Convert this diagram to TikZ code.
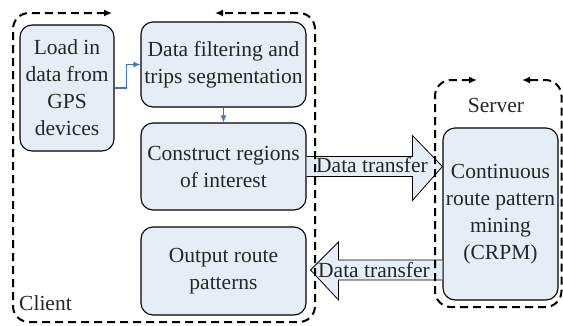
\documentclass[tikz,border=0pt]{standalone}
\usepackage{fontspec}
\setmainfont{Liberation Serif}
\usetikzlibrary{arrows.meta,calc}
\definecolor{boxfill}{HTML}{E7EDF7}
\definecolor{flowblue}{HTML}{4472C4}
\definecolor{txt}{HTML}{262626}
\begin{document}
\begin{tikzpicture}[x=1pt,y=-1pt,
  box/.style={draw=black,line width=1.1pt,fill=boxfill,rounded corners=12pt,
    align=center,text=txt,inner sep=1pt,
    font=\fontsize{21.5}{27}\selectfont},
  region/.style={draw=black,line width=2pt,dash pattern=on 8pt off 5pt,
    rounded corners=16pt,{Latex[length=8pt,width=7pt]}-{Latex[length=8pt,width=7pt]}},
  flow/.style={draw=flowblue,line width=1.1pt,-{Latex[length=7pt,width=6pt]}},
  bigarrow/.style={draw=black,line width=0.8pt,fill=boxfill},
  lbl/.style={text=txt,font=\fontsize{21.5}{27}\selectfont,inner sep=0pt}]
\useasboundingbox (0,0) rectangle (563,325);

% boxes
\node[box,minimum width=94pt,minimum height=126pt] (load) at (67,88) {Load in\\data from\\GPS\\devices};
\node[box,minimum width=165pt,minimum height=85pt] (filt) at (223.5,64.5) {Data filtering and\\trips segmentation};
\node[box,minimum width=165pt,minimum height=87pt] (roi) at (223.5,166.5) {Construct regions\\of interest};
\node[box,minimum width=165pt,minimum height=88pt] (out) at (223.5,271) {Output route\\patterns};
\node[box,minimum width=115pt,minimum height=172pt] (crpm) at (500.5,214) {Continuous\\route pattern\\mining\\(CRPM)};

% small flow arrows
\draw[flow] (load.east) -- ++(12,0) |- (filt.west);
\draw[flow] (filt.south) -- (roi.north);

% big transfer arrows
\coordinate (t1) at (crpm.west |- roi.east);
\draw[bigarrow] ($(roi.east)+(0,-10)$) -- ($(t1)+(-30,-10)$) -- ($(t1)+(-30,-31)$) -- (t1)
  -- ($(t1)+(-30,34)$) -- ($(t1)+(-30,10)$) -- ($(roi.east)+(0,10)$);
\coordinate (t2) at ($(out.east)+(4,-1)$);
\coordinate (s2) at (crpm.west |- t2);
\draw[bigarrow] ($(s2)+(0,-10)$) -- ($(t2)+(28,-10)$) -- ($(t2)+(28,-28)$) -- (t2)
  -- ($(t2)+(28,30)$) -- ($(t2)+(28,10)$) -- ($(s2)+(0,10)$);

% dashed regions
\draw[region] (112,13) -- (13,13) -- (13,322) -- (315,322) -- (315,13) -- (215,13);
\draw[region] (477,80) -- (435,80) -- (435,307) -- (561.5,307) -- (561.5,80) -- (522,80);

% labels
\node[lbl] (dt1) at (372,165) {Data transfer};
\node[lbl] (dt2) at (374,270) {Data transfer};
\node[lbl] (server) at (496,105) {Server};
\node[lbl,anchor=base west] (client) at (19,310) {Client};
\end{tikzpicture}
\end{document}
